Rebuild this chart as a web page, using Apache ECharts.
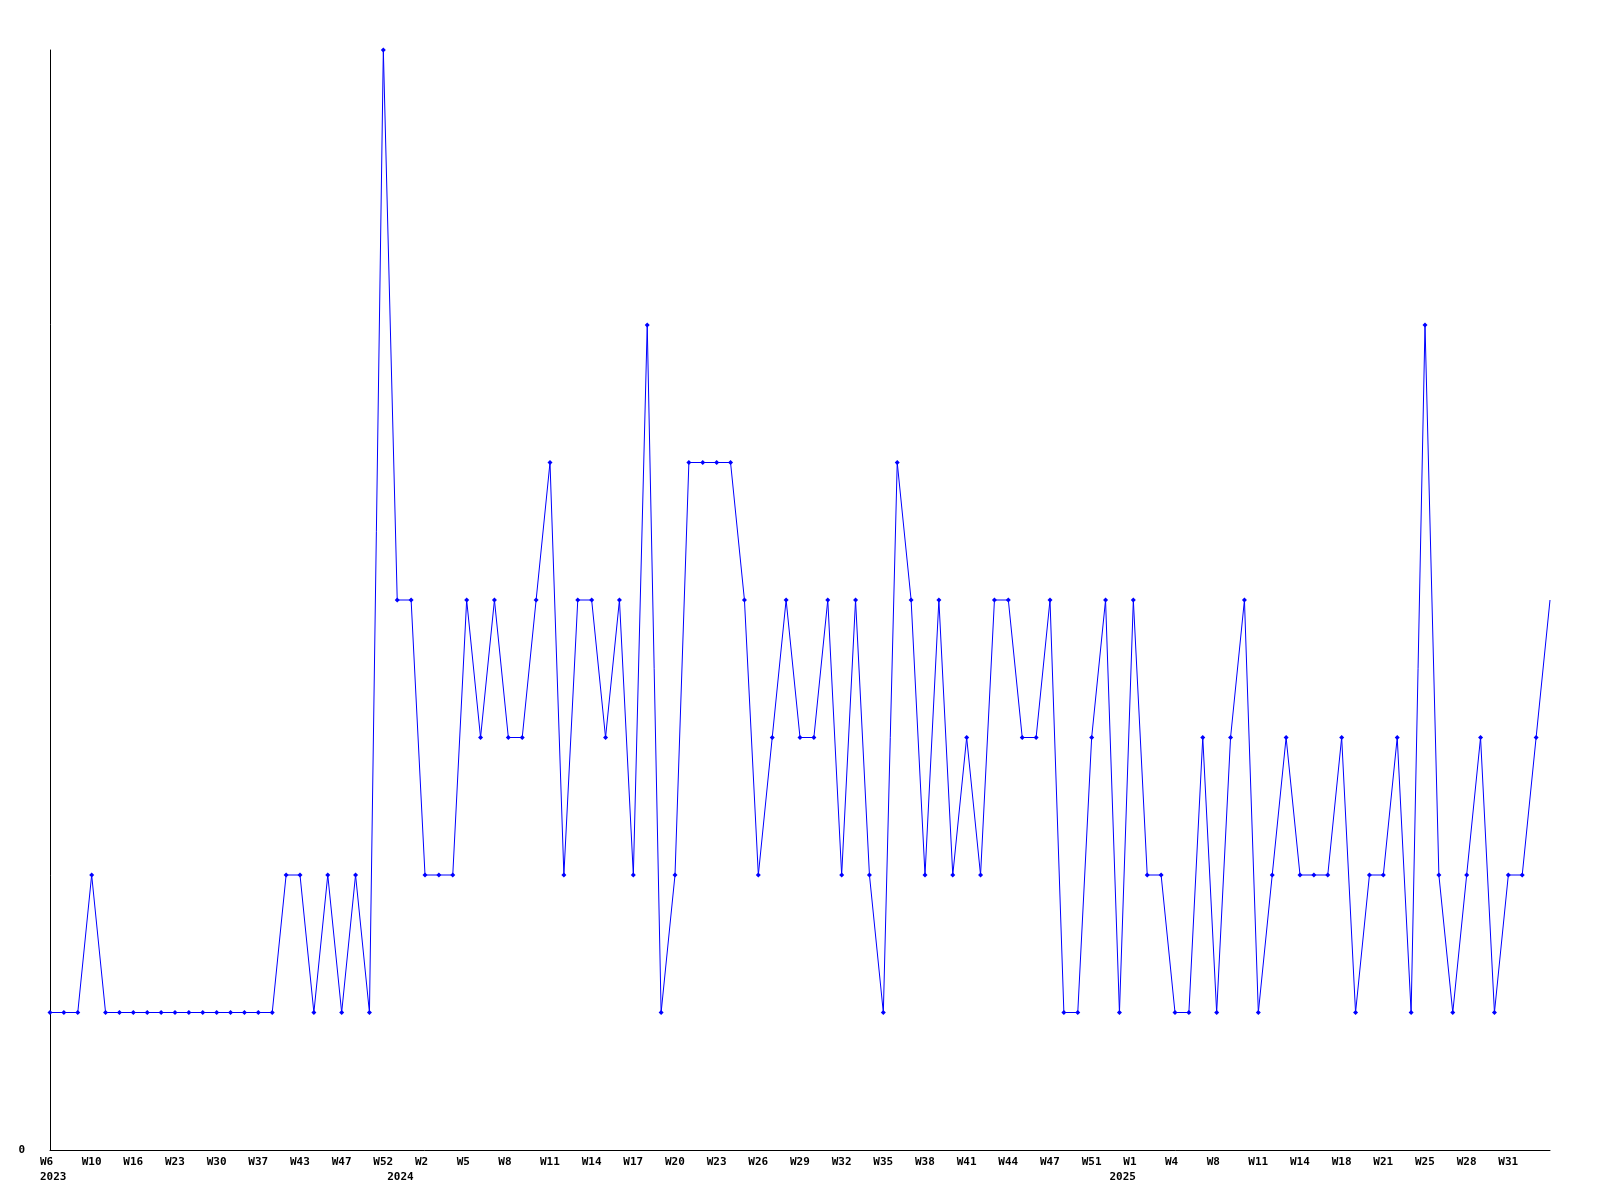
<!DOCTYPE html>
<html>
<head>
<meta charset="utf-8">
<script src="https://cdn.jsdelivr.net/npm/echarts@6/dist/echarts.min.js"></script>
<style>
html,body{margin:0;padding:0;background:#fff;}
#chart{width:1600px;height:1200px;}
</style>
</head>
<body>
<div id="chart"></div>
<script>
// Week label for each data point
const weeks = [
  'W6','W7','W8','W10','W12','W14','W16','W18','W20','W23','W25','W27','W30','W32','W35','W37','W39','W41',
  'W43','W44','W46','W47','W49','W50','W52','W1','W1','W2','W3','W4','W5','W6','W7','W8','W9','W10',
  'W11','W12','W13','W14','W15','W16','W17','W18','W19','W20','W21','W22','W23','W24','W25','W26','W27','W28',
  'W29','W30','W31','W32','W33','W34','W35','W36','W37','W38','W39','W40','W41','W42','W43','W44','W45','W46',
  'W47','W49','W50','W51','W52','W1','W1','W2','W3','W4','W5','W7','W8','W9','W10','W11','W12','W13',
  'W14','W15','W17','W18','W19','W20','W21','W22','W24','W25','W26','W27','W28','W29','W30','W31','W32','W33',
  'W34'
];
// Year shown under the axis at these point indexes
const yearIndexes = [0, 25, 77];
const yearNames = ['2023', '2024', '2025'];
// Series values
const values = [
  1,1,1,2,1,1,1,1,1,1,1,1,1,1,1,1,1,2,
  2,1,2,1,2,1,8,4,4,2,2,2,4,3,4,3,3,4,
  5,2,4,4,3,4,2,6,1,2,5,5,5,5,4,2,3,4,
  3,3,4,2,4,2,1,5,4,2,4,2,3,2,4,4,3,3,
  4,1,1,3,4,1,4,2,2,1,1,3,1,3,4,1,2,3,
  2,2,2,3,1,2,2,3,1,6,2,1,2,3,1,2,2,3,
  4
];
const yMin = 0, yMax = 8;

const FONT = 'DejaVu Sans Mono';
const chart = echarts.init(document.getElementById('chart'), null, {renderer: 'canvas'});
const lastIdx = values.length - 1;

chart.setOption({
  animation: false,
  backgroundColor: '#ffffff',
  grid: {left: 50, right: 50, top: 50, bottom: 50, containLabel: false},
  xAxis: {
    type: 'category',
    data: weeks,
    boundaryGap: false,
    axisLine: {show: true, lineStyle: {color: '#000', width: 1}},
    axisTick: {show: false},
    splitLine: {show: false},
    axisLabel: {
      interval: function (i) { return i !== lastIdx && (i % 3 === 0 || yearIndexes.indexOf(i) >= 0); },
      margin: 5,
      align: 'center',
      formatter: function (val, i) {
        const yi = yearIndexes.indexOf(i);
        const top = (i % 3 === 0) ? val : ' ';
        const bottom = yi >= 0 ? yearNames[yi] : ' ';
        return '{w|' + top + '}\n{w|' + bottom + '}';
      },
      rich: {
        w: {width: 20, align: 'left', fontFamily: FONT, fontWeight: 'bold', fontSize: 11, lineHeight: 15, color: '#000'}
      }
    }
  },
  yAxis: {
    type: 'value',
    min: yMin,
    max: yMax,
    interval: 8,
    axisLine: {show: true, lineStyle: {color: '#000', width: 1}},
    axisTick: {show: false},
    splitLine: {show: false},
    axisLabel: {
      margin: 25,
      fontFamily: FONT, fontWeight: 'bold', fontSize: 11, color: '#000',
      formatter: function (v) { return v === 0 ? '0' : ''; }
    }
  },
  series: [{
    type: 'line',
    data: values,
    symbol: function (v, p) { return p.dataIndex === lastIdx ? 'none' : 'diamond'; },
    symbolSize: 5,
    showAllSymbol: true,
    clip: false,
    lineStyle: {color: '#0000ff', width: 1},
    itemStyle: {color: '#0000ff'}
  }]
});
</script>
</body>
</html>
